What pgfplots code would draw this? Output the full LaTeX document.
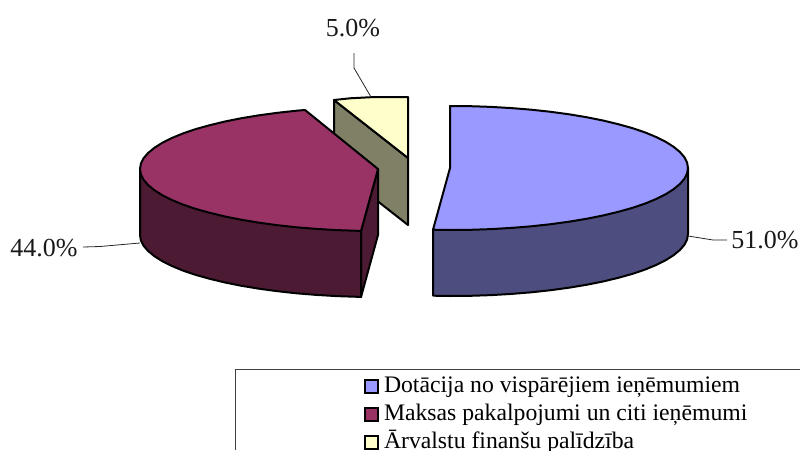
\documentclass[border=0pt]{standalone}
\usepackage{fontspec}
\setmainfont{Liberation Serif}
\usepackage{pgfplots}
\pgfplotsset{compat=1.18}
\definecolor{blueTop}{HTML}{9999FF}
\definecolor{blueSide}{HTML}{4D4D80}
\definecolor{maroonTop}{HTML}{993366}
\definecolor{maroonSide}{HTML}{4D1A33}
\definecolor{yellowTop}{HTML}{FFFFCC}
\definecolor{yellowSide}{HTML}{808066}
\pgfplotsset{
  slice/.style={draw=black, line width=2pt, line join=round, forget plot},
  leader/.style={draw=black!85, line width=0.8pt, forget plot},
}
\tikzset{pct/.style={font=\fontsize{26}{30}\selectfont, text=black!90, inner sep=0pt}}
\begin{document}
\begin{tikzpicture}
\useasboundingbox (0,0) rectangle (800pt,450pt);
\begin{axis}[
    scale only axis, width=800pt, height=450pt,
    xmin=0, xmax=800, ymin=0, ymax=450,
    y dir=reverse,
    hide axis,
    legend cell align=left,
    legend style={at={(axis cs:364,372)}, anchor=north west, draw=none, fill=none,
        inner sep=0pt, outer sep=0pt,
        font=\fontsize{23.7}{28}\selectfont, row sep=0pt,
        /tikz/every odd column/.style={column sep=5pt},
        nodes={inner sep=0pt, text height=20pt, text depth=8pt}},
    legend image code/.code={
        \draw[#1, line width=2pt] (0pt,-6.5pt) rectangle (13pt,6.5pt);
    },
]
% legend, in the order of the reference
\addlegendimage{fill=blueTop, draw=black}
\addlegendentry{Dotācija no vispārējiem ieņēmumiem}
\addlegendimage{fill=maroonTop, draw=black}
\addlegendentry{Maksas pakalpojumi un citi ieņēmumi}
\addlegendimage{fill=yellowTop, draw=black}
\addlegendentry{Ārvalstu finanšu palīdzība}

% legend frame, runs off the page
\addplot[draw=black!75, line width=0.8pt, forget plot] coordinates {(800,369.5)(235.5,369.5)(235.5,450)};

% 5.0% slice
\addplot[slice, fill=yellowSide] coordinates {(334,100)(408,158)(408,225)(334,167)} -- cycle;
\addplot[slice, fill=yellowTop] coordinates {(334,100)(350,98.3)(371,97.2)(390,97)(408,97)(408,158)} -- cycle;

% 51.0% slice
\addplot[slice, fill=blueSide] coordinates {
    (688,168)(688,234)(687.1,239.4)(684.4,244.8)(679.9,250)(673.6,255.2)(665.7,260.2)
    (656.1,265)(645,269.6)(632.3,273.9)(618.3,277.8)(603,281.5)(586.5,284.8)(569,287.7)
    (550.6,290.2)(531.4,292.3)(511.6,293.9)(491.3,295.1)(470.8,295.8)(450,296)(433,295.7)
    (433,229.7)} -- cycle;
\addplot[slice, fill=blueTop] coordinates {
    (450,168)(450,106)(470.8,106.2)(491.3,106.9)(511.6,108.1)(531.4,109.7)(550.6,111.8)
    (569,114.3)(586.5,117.2)(603,120.5)(618.3,124.2)(632.3,128.1)(645,132.4)(656.1,137)
    (665.7,141.8)(673.6,146.8)(679.9,152)(684.4,157.2)(687.1,162.6)(688,168)
    (687.1,173.4)(684.4,178.8)(679.9,184)(673.6,189.2)(665.7,194.2)(656.1,199)(645,203.6)
    (632.3,207.9)(618.3,211.8)(603,215.5)(586.5,218.8)(569,221.7)(550.6,224.2)(531.4,226.3)
    (511.6,227.9)(491.3,229.1)(470.8,229.8)(450,230)(433,229.7)} -- cycle;

% 44.0% slice
\addplot[slice, fill=maroonSide] coordinates {(361,231)(361,297)(378,235)(378,169)} -- cycle;
\addplot[slice, fill=maroonSide] coordinates {
    (140,169)(140,235)(140.9,240.4)(143.6,245.8)(148.1,251)(154.4,256.2)(162.3,261.2)
    (171.9,266)(183,270.6)(195.7,274.9)(209.7,278.8)(225,282.5)(241.5,285.8)(259,288.7)
    (277.4,291.2)(296.6,293.3)(316.4,294.9)(336.7,296.1)(357.2,296.8)(361,297)(361,231)} -- cycle;
\addplot[slice, fill=maroonTop] coordinates {
    (378,169)(305,110)(296.6,110.7)(277.4,112.8)(259,115.3)(241.5,118.2)(225,121.5)
    (209.7,125.2)(195.7,129.1)(183,133.4)(171.9,138)(162.3,142.8)(154.4,147.8)(148.1,153)
    (143.6,158.2)(140.9,163.6)(140,169)(140.9,174.4)(143.6,179.8)(148.1,185)(154.4,190.2)
    (162.3,195.2)(171.9,200)(183,204.6)(195.7,208.9)(209.7,212.8)(225,216.5)(241.5,219.8)
    (259,222.7)(277.4,225.2)(296.6,227.3)(316.4,228.9)(336.7,230.1)(357.2,230.8)(361,231)} -- cycle;

% leader lines
\addplot[leader] coordinates {(354,53)(354,68)(371,97)};
\addplot[leader] coordinates {(83,247)(100,246.5)(140,243)};
\addplot[leader] coordinates {(688,236)(713,240)(727,240)};

\node[pct] at (axis cs:353,28) {5.0\%};
\node[pct] at (axis cs:44,248) {44.0\%};
\node[pct] at (axis cs:765,240) {51.0\%};
\end{axis}
\end{tikzpicture}
\end{document}
